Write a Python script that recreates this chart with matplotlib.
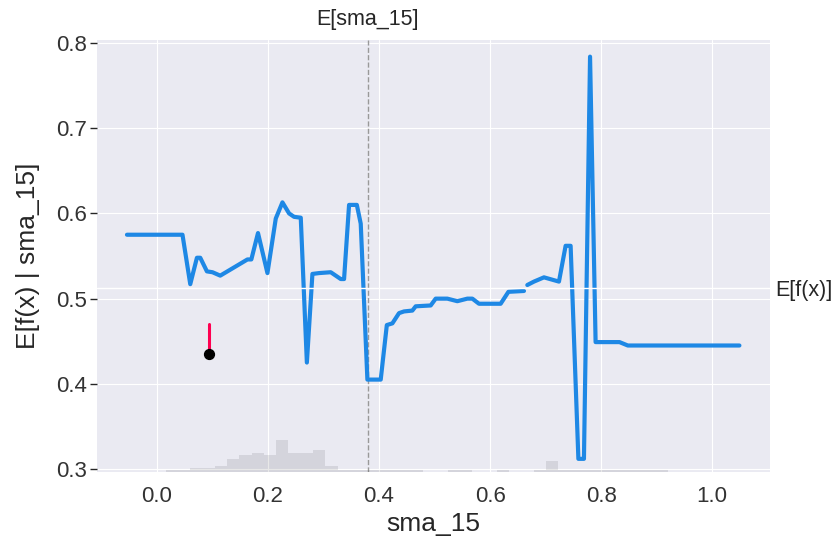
import numpy as np
import matplotlib
matplotlib.use("Agg")
import matplotlib.pyplot as plt
import seaborn as sns

# partial dependence curve of sma_15 (nan = gap in the line)
sma_15 = [-0.054, 0.046, 0.060, 0.072, 0.078, 0.090, 0.100, 0.114, 0.163, 0.170,
          0.182, 0.199, 0.214, 0.226, 0.238, 0.247, 0.259, 0.270, 0.280, 0.292,
          0.313, 0.331, 0.337, 0.346, 0.360, 0.367, 0.379, 0.403, 0.414, 0.424,
          0.436, 0.445, 0.460, 0.466, 0.493, 0.502, 0.523, 0.541, 0.559, 0.568,
          0.580, 0.619, 0.633, 0.661, np.nan, 0.667, 0.679, 0.697, 0.724, 0.736,
          0.745, 0.759, 0.769, 0.780, 0.790, 0.833, 0.848, 1.049]
pd_value = [0.575, 0.575, 0.517, 0.548, 0.548, 0.532, 0.531, 0.527, 0.546, 0.546,
            0.577, 0.530, 0.594, 0.613, 0.600, 0.596, 0.595, 0.425, 0.529, 0.530,
            0.531, 0.523, 0.523, 0.610, 0.610, 0.588, 0.405, 0.405, 0.469, 0.471,
            0.483, 0.485, 0.486, 0.491, 0.492, 0.500, 0.500, 0.497, 0.500, 0.500,
            0.494, 0.494, 0.508, 0.509, np.nan, 0.516, 0.520, 0.525, 0.520, 0.562,
            0.562, 0.312, 0.312, 0.784, 0.449, 0.449, 0.445, 0.445]

# histogram of the feature values
hist_start = -0.050
hist_step = 0.02207
hist_counts = [0, 0, 0, 1, 1, 2, 2, 3, 6, 8,
               9, 8, 15, 9, 9, 10, 3, 1, 1, 1,
               1, 1, 1, 1, 0, 0, 1, 1, 0, 0,
               1, 0, 0, 1, 5, 1, 1, 1, 1, 1,
               1, 1, 1, 1, 0, 0, 0, 0, 0, 0]
hist_total = 200

# single sample
sample_x = 0.094
sample_value = 0.435
sample_top = 0.470

mean_sma_15 = 0.380
mean_fx = 0.513

sns.set_style("darkgrid")
plt.rcParams["font.family"] = ["Liberation Sans", "DejaVu Sans"]

fig = plt.figure(figsize=(8.36, 5.56), dpi=100)
ax1 = fig.add_axes([0.116, 0.151, 0.805, 0.777])

ax1.plot(sma_15, pd_value, color="#1E88E5", linewidth=3, zorder=3)
ax1.axvline(mean_sma_15, color="#999999", linestyle="--", linewidth=1, zorder=2)
ax1.plot([sample_x, sample_x], [sample_value, sample_top], color="#FF0051", linewidth=2.2, zorder=4)
ax1.scatter([sample_x], [sample_value], color="black", s=50, zorder=5)

xlim = (-0.108, 1.104)
ylim = (0.2965, 0.8035)
ax1.set_xlim(xlim)
ax1.set_ylim(ylim)
ax1.set_xticks([0.0, 0.2, 0.4, 0.6, 0.8, 1.0])
ax1.set_yticks([0.3, 0.4, 0.5, 0.6, 0.7, 0.8])
ax1.tick_params(axis="both", length=5, width=1, color=".15", labelsize=16, labelcolor=".2")
ax1.tick_params(axis="x", pad=5)
ax1.tick_params(axis="y", pad=2)
ax1.set_xlabel("sma_15", fontsize=19, color=".15")
ax1.set_ylabel("E[f(x) | sma_15]", fontsize=19, color=".15", labelpad=12)

# histogram on a twin axis
ax2 = ax1.twinx()
edges = hist_start + hist_step * np.arange(len(hist_counts))
ax2.bar(edges, hist_counts, width=hist_step, align="edge", color="black", alpha=0.09, linewidth=0)
ax2.set_ylim(0, hist_total)
ax2.set_yticks([])
ax2.grid(axis="x", color="white", linewidth=1)

# E[sma_15] label on top
ax3 = ax2.twiny()
ax3.set_xlim(xlim)
ax3.set_xticks([mean_sma_15])
ax3.set_xticklabels(["E[sma_15]"])
ax3.tick_params(length=0, labelsize=15.5, labelcolor=".15", pad=7)
ax3.grid(False)

# E[f(x)] label on the right
ax4 = ax1.twinx()
ax4.set_ylim(ylim)
ax4.set_yticks([mean_fx])
ax4.set_yticklabels(["E[f(x)]"])
ax4.tick_params(length=0, labelsize=15.5, labelcolor=".15", pad=4)
ax4.grid(axis="x", visible=False)
ax4.grid(axis="y", color="white", linewidth=1)

for a in (ax1, ax2, ax3, ax4):
    for s in a.spines.values():
        s.set_visible(False)

fig.savefig("out.png", dpi=100)
